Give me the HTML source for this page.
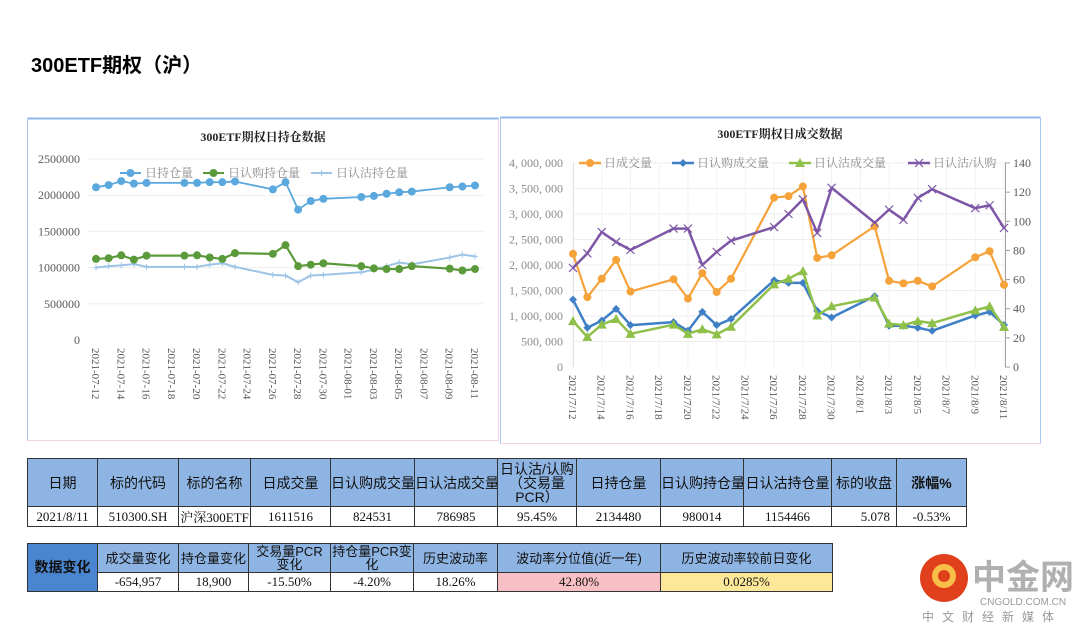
<!DOCTYPE html>
<html><head><meta charset="utf-8">
<style>
body{margin:0;width:1080px;height:623px;background:#fff;position:relative;overflow:hidden;font-family:"Liberation Sans","Noto Sans CJK SC",sans-serif;}
.abs{position:absolute;}
table{border-collapse:collapse;position:absolute;font-family:"Liberation Serif","Noto Serif CJK SC",serif;font-size:13px;color:#111;table-layout:fixed;}
td{border:1.5px solid #333;text-align:center;padding:0;overflow:hidden;white-space:nowrap;}
.h td{background:#8db4e2;font-family:"Liberation Sans","Noto Sans CJK SC",sans-serif;font-size:14px;line-height:14px;}
.h2 td{background:#8db4e2;font-family:"Liberation Sans","Noto Sans CJK SC",sans-serif;font-size:13px;line-height:13px;}
svg text{font-family:"Liberation Serif","Noto Serif CJK SC",serif;}
</style></head>
<body>
<div class="abs" style="left:31px;top:49px;font-size:20px;font-weight:bold;color:#000;">300ETF期权（沪）</div>

<svg class="abs" style="left:0;top:0" width="1080" height="623" id="svg">
  <rect x="27.5" y="118.5" width="471" height="322" fill="#fff" stroke="#f0d4e6"/>
  <line x1="27.5" y1="118.5" x2="498.5" y2="118.5" stroke="#8fb8ec" stroke-width="2"/>
  <line x1="27.5" y1="118.5" x2="27.5" y2="440" stroke="#a9c8f0"/>
  <rect x="500.5" y="117.5" width="540" height="326" fill="#fff" stroke="#f0d4e6"/>
  <line x1="500.5" y1="117.5" x2="1040.5" y2="117.5" stroke="#8fb8ec" stroke-width="2"/>
  <line x1="500.5" y1="117.5" x2="500.5" y2="443" stroke="#a9c8f0"/>
  <line x1="1040.5" y1="117.5" x2="1040.5" y2="443" stroke="#a9c8f0"/>
  <text x="263" y="141" text-anchor="middle" font-size="12" font-weight="bold" fill="#222">300ETF期权日持仓数据</text>
  <text x="780" y="138" text-anchor="middle" font-size="12" font-weight="bold" fill="#222">300ETF期权日成交数据</text>
  <g id="g1"></g><g id="g2"></g>
</svg>

<table style="left:27px;top:458px;width:939px;">
<colgroup><col style="width:70px"><col style="width:81px"><col style="width:72px"><col style="width:80px"><col style="width:84px"><col style="width:83px"><col style="width:79px"><col style="width:84px"><col style="width:83px"><col style="width:88px"><col style="width:65px"><col style="width:70px"></colgroup>
<tr class="h" style="height:48px"><td>日期</td><td>标的代码</td><td>标的名称</td><td>日成交量</td><td>日认购成交量</td><td>日认沽成交量</td><td style="white-space:normal">日认沽/认购<br>（交易量<br>PCR）</td><td>日持仓量</td><td>日认购持仓量</td><td>日认沽持仓量</td><td>标的收盘</td><td><b>涨幅%</b></td></tr>
<tr style="height:17px"><td>2021/8/11</td><td>510300.SH</td><td>沪深300ETF</td><td>1611516</td><td>824531</td><td>786985</td><td>95.45%</td><td>2134480</td><td>980014</td><td>1154466</td><td style="text-align:right;padding-right:6px">5.078</td><td>-0.53%</td></tr>
</table>

<table style="left:27px;top:543px;width:805px;">
<colgroup><col style="width:70px"><col style="width:81px"><col style="width:70px"><col style="width:82px"><col style="width:83px"><col style="width:84px"><col style="width:163px"><col style="width:172px"></colgroup>
<tr class="h2" style="height:29px"><td rowspan="2" style="background:#4a86d0;font-weight:bold;font-size:14px;">数据变化</td><td>成交量变化</td><td>持仓量变化</td><td>交易量PCR<br>变化</td><td>持仓量PCR变<br>化</td><td>历史波动率</td><td>波动率分位值(近一年)</td><td>历史波动率较前日变化</td></tr>
<tr style="height:19px"><td>-654,957</td><td>18,900</td><td>-15.50%</td><td>-4.20%</td><td>18.26%</td><td style="background:#f8c0c4">42.80%</td><td style="background:#fde89a">0.0285%</td></tr>
</table>

<div class="abs" style="left:920px;top:550px;width:160px;height:72px;">
  <div class="abs" style="left:0px;top:4px;width:48px;height:48px;border-radius:50%;background:#e0401c;"></div>
  <div class="abs" style="left:12px;top:14px;width:24px;height:24px;border-radius:50%;border:6px solid #f6c04a;box-sizing:border-box;"></div>
  <div class="abs" style="left:52px;top:0px;font-size:34px;font-weight:bold;color:#b0b0b0;font-family:'Noto Sans CJK SC',sans-serif;">中金网</div>
  <div class="abs" style="left:60px;top:47px;font-size:10px;color:#999;">CNGOLD.COM.CN</div>
  <div class="abs" style="left:2px;top:58px;font-size:12px;color:#999;letter-spacing:8px;font-family:'Noto Sans CJK SC',sans-serif;">中文财经新媒体</div>
</div>

<script>
// ---- Holding chart data ----
const holdDays = [0,1,2,3,4,7,8,9,10,11,14,15,16,17,18,21,22,23,24,25,28,29,30];
const totalHold = [2110000,2140000,2195000,2160000,2170000,2170000,2170000,2180000,2180000,2190000,2080000,2180000,1800000,1920000,1950000,1975000,1990000,2020000,2040000,2050000,2110000,2120000,2134480];
const callHold = [1120000,1130000,1170000,1110000,1165000,1165000,1170000,1140000,1120000,1200000,1190000,1310000,1020000,1040000,1060000,1020000,990000,980000,980000,1020000,985000,960000,980014];
const putHold = [1000000,1020000,1030000,1050000,1010000,1010000,1010000,1040000,1060000,1010000,900000,890000,800000,890000,900000,935000,970000,1020000,1070000,1045000,1140000,1180000,1154466];
const holdTicks = [0,500000,1000000,1500000,2000000,2500000];
const holdXLabels = ["2021-07-12","2021-07-14","2021-07-16","2021-07-18","2021-07-20","2021-07-22","2021-07-24","2021-07-26","2021-07-28","2021-07-30","2021-08-01","2021-08-03","2021-08-05","2021-08-07","2021-08-09","2021-08-11"];
// ---- Volume chart data ----
const volume = [2220000,1370000,1730000,2100000,1480000,1720000,1340000,1840000,1470000,1730000,3320000,3350000,3540000,2140000,2190000,2760000,1690000,1640000,1690000,1580000,2150000,2270000,1611516];
const callVol = [1320000,770000,910000,1140000,820000,880000,710000,1080000,820000,940000,1700000,1650000,1650000,1100000,970000,1390000,810000,810000,770000,710000,1010000,1080000,824531];
const putVol = [900000,590000,830000,940000,650000,830000,650000,740000,640000,790000,1620000,1730000,1880000,1010000,1190000,1360000,850000,820000,900000,860000,1110000,1190000,786985];
const pcr = [68,78,92.6,85.8,80.3,95,95,70,79,86.7,96,105,115,92,123,99,108,101,116,122,109,111,95.45];
const volTicks = [0,500000,1000000,1500000,2000000,2500000,3000000,3500000,4000000];
const pcrTicks = [0,20,40,60,80,100,120,140];
const volXLabels = ["2021/7/12","2021/7/14","2021/7/16","2021/7/18","2021/7/20","2021/7/22","2021/7/24","2021/7/26","2021/7/28","2021/7/30","2021/8/1","2021/8/3","2021/8/5","2021/8/7","2021/8/9","2021/8/11"];

const NS="http://www.w3.org/2000/svg";
function mk(parent,tag,attrs,txt){const e=document.createElementNS(NS,tag);for(const k in attrs)e.setAttribute(k,attrs[k]);if(txt!==undefined)e.textContent=txt;parent.appendChild(e);return e;}
function fmtC(v){return v.toLocaleString('en-US').replace(/,/g,', ');}
function marker(g,type,x,y,color){
  let m;
  if(type==='circle') m=mk(g,'circle',{cx:x,cy:y,r:4,fill:color});
  else if(type==='diamond') m=mk(g,'path',{d:`M${x} ${y-4}L${x+4} ${y}L${x} ${y+4}L${x-4} ${y}Z`,fill:color});
  else if(type==='tri') m=mk(g,'path',{d:`M${x} ${y-5}L${x+5} ${y+4}L${x-5} ${y+4}Z`,fill:color});
  else if(type==='x') m=mk(g,'path',{d:`M${x-4} ${y-4}L${x+4} ${y+4}M${x-4} ${y+4}L${x+4} ${y-4}`,stroke:color,'stroke-width':1.2,fill:'none'});
  else if(type==='plus') m=mk(g,'path',{d:`M${x-3} ${y}L${x+3} ${y}M${x} ${y-3}L${x} ${y+3}`,stroke:color,'stroke-width':1,fill:'none'});
  return m;
}
function series(g,name,xs,ys,color,w,mt){
  const s=mk(g,'g',{});
  
  
  mk(s,'polyline',{points:xs.map((x,i)=>x+','+ys[i]).join(' '),fill:'none',stroke:color,'stroke-width':w,'stroke-linejoin':'round'});
  xs.forEach((x,i)=>{const m=marker(s,mt,x,ys[i],color);
    
    });
}

// Left chart
(function(){
  const g=document.getElementById('g1');
  const X=d=>96+d*(475-96)/30, Y=v=>340-v*(340-159)/2500000;
  holdTicks.forEach(t=>{
    if(t>0) mk(g,'line',{x1:88,x2:483,y1:Y(t),y2:Y(t),stroke:'#eeeeee'});
    const tl=mk(g,'text',{x:80,y:Y(t)+4,'text-anchor':'end','font-size':12,fill:'#595959'},String(t));
    
    
  });
  holdXLabels.forEach((l,i)=>{
    const x=X(i*2);
    const t=mk(g,'text',{x:0,y:0,transform:`translate(${x-4},348) rotate(90)`,'font-size':11,fill:'#595959'},l);
    
    
  });
  const xs=holdDays.map(X);
  series(g,'put-hold-line',xs,putHold.map(Y),'#9dc3e6',2,'plus');
  series(g,'call-hold-line',xs,callHold.map(Y),'#5b9a3a',2.2,'circle');
  series(g,'total-hold-line',xs,totalHold.map(Y),'#5aa8de',1.8,'circle');
  const leg=[['日持仓量','#5aa8de','circle',120],['日认购持仓量','#5b9a3a','circle',203],['日认沽持仓量','#9dc3e6','plus',311]];
  leg.forEach(([t,c,m,x])=>{
    const lg=mk(g,'g',{});
    
    
    mk(lg,'line',{x1:x,x2:x+21,y1:173,y2:173,stroke:c,'stroke-width':2});
    marker(lg,m,x+10.5,173,c);
    mk(lg,'text',{x:x+25,y:177,'font-size':12,fill:'#8a8a8a'},t);
  });
})();

// Right chart
(function(){
  const g=document.getElementById('g2');
  const X=d=>573+d*(1004-573)/30, Y=v=>367-v*(367-163)/4000000, Y2=v=>367-v*(367-163)/140;
  volTicks.forEach(t=>{
    if(t>0) mk(g,'line',{x1:573,x2:1005,y1:Y(t),y2:Y(t),stroke:'#eeeeee'});
    const tl=mk(g,'text',{x:563,y:Y(t)+4,'text-anchor':'end','font-size':12,fill:'#8a8a8a'},t===0?'0':fmtC(t));
    
    
  });
  volXLabels.forEach((l,i)=>{
    const x=X(i*2);
    mk(g,'line',{x1:x,x2:x,y1:163,y2:367,stroke:'#f2f2f2'});
    const t=mk(g,'text',{x:0,y:0,transform:`translate(${x-4},375) rotate(90)`,'font-size':11,fill:'#595959'},l);
    
    
  });
  mk(g,'line',{x1:573.5,x2:573.5,y1:163,y2:367,stroke:'#e0e0e0'});
  mk(g,'line',{x1:1005.5,x2:1005.5,y1:163,y2:367,stroke:'#a0a0a0'});
  pcrTicks.forEach(t=>{
    mk(g,'line',{x1:1005,x2:1010,y1:Y2(t),y2:Y2(t),stroke:'#a0a0a0'});
    const tl=mk(g,'text',{x:1013,y:Y2(t)+4,'font-size':12,fill:'#595959'},String(t));
    
    
  });
  const xs=holdDays.map(X);
  series(g,'volume-line',xs,volume.map(Y),'#f5a23a',2.2,'circle');
  series(g,'call-volume-line',xs,callVol.map(Y),'#3f7fc6',2.5,'diamond');
  series(g,'put-volume-line',xs,putVol.map(Y),'#8fc04a',2.5,'tri');
  series(g,'pcr-line',xs,pcr.map(Y2),'#7d56a6',2.5,'x');
  const leg=[['日成交量','#f5a23a','circle',579],['日认购成交量','#3f7fc6','diamond',672],['日认沽成交量','#8fc04a','tri',789],['日认沽/认购','#7d56a6','x',908]];
  leg.forEach(([t,c,m,x])=>{
    const lg=mk(g,'g',{});
    
    
    mk(lg,'line',{x1:x,x2:x+22,y1:163,y2:163,stroke:c,'stroke-width':2.5});
    marker(lg,m,x+11,163,c);
    mk(lg,'text',{x:x+25,y:167,'font-size':12,fill:'#8a8a8a'},t);
  });
})();
</script>
</body></html>
